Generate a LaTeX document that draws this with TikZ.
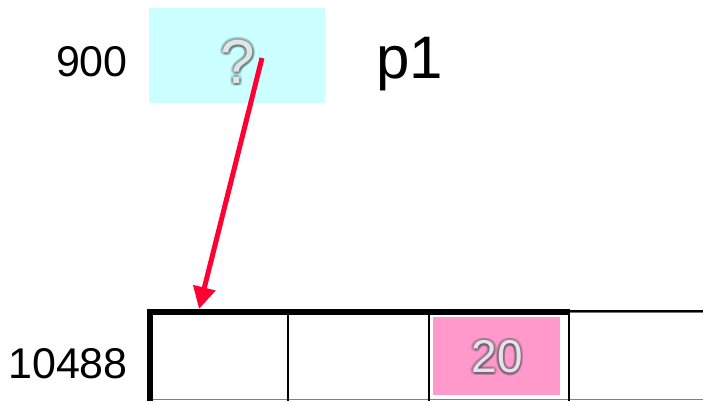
\documentclass[tikz,border=0pt]{standalone}
\usepackage{fontspec}
\setmainfont{Liberation Sans}
\usetikzlibrary{arrows.meta}
\definecolor{cellcyan}{HTML}{CCFFFF}
\definecolor{cellpink}{HTML}{FF99CC}
\definecolor{ptrred}{HTML}{FF0033}
\definecolor{glyphgray}{HTML}{E4E4E4}
\definecolor{glowdark}{HTML}{34454B}
\tikzset{
  addr/.style={inner sep=0pt, anchor=east, font=\fontsize{43}{43}\selectfont, text=black},
  ghost/.style={inner sep=0pt, text=glyphgray},
  glow/.style={inner sep=0pt, text=glowdark, opacity=0.17},
  cellline/.style={line width=2pt, draw=black},
  ptr/.style={draw=ptrred, line width=5pt, -{Triangle[length=22pt,width=22pt]}},
}
% light glyph surrounded by a soft dark halo
\newcommand{\haloText}[4]{% name, x, y, text
  \foreach \dx/\dy in {-2.8/0,2.8/0,0/-2.8,0/2.8,-2/-2,2/-2,-2/2,2/2,1.4/1.4,0.8/2.2,-1.2/0.6}
    \node[glow] at (#2+\dx,#3+\dy) {#4};
  \node[ghost] (#1) at (#2,#3) {#4};
}
\begin{document}
\begin{tikzpicture}[x=1pt,y=-1pt]
\useasboundingbox (0,0) rectangle (703,401);
% pointer variable p1 at address 900
\fill[cellcyan] (149,8) rectangle (325,103);
\begin{scope}[every node/.append style={font=\fontsize{62}{62}\selectfont}]
  \haloText{q}{238}{62}{?}
\end{scope}
\node[addr] (a900) at (128,62) {900};
\node[inner sep=0pt, font=\fontsize{60}{60}\selectfont] (p1) at (410,64) {p1};
% array starting at address 10488
\node[addr] (a10488) at (128,364) {10488};
\fill[cellpink] (433,317) rectangle (560,395);
\begin{scope}[every node/.append style={font=\fontsize{46}{46}\selectfont}]
  \haloText{v20}{497}{357}{20}
\end{scope}
% cell borders
\draw[black!55, line width=1pt] (570,312) -- (703,312);
\draw[black, line width=1.5pt] (570,311) -- (703,311);
\draw[black!50, line width=1.5pt] (150,399.5) -- (703,399.5);
\draw[cellline] (288,313) -- (288,401);
\draw[cellline] (429,313) -- (429,401);
\draw[cellline] (569,310) -- (569,401);
\draw[line width=6pt, line join=miter] (150,401) -- (150,312) -- (570,312);
\coordinate (c0) at (199,309);
\coordinate (qtail) at (262,58);
\draw[ptr] (qtail) -- (c0);
\end{tikzpicture}
\end{document}
